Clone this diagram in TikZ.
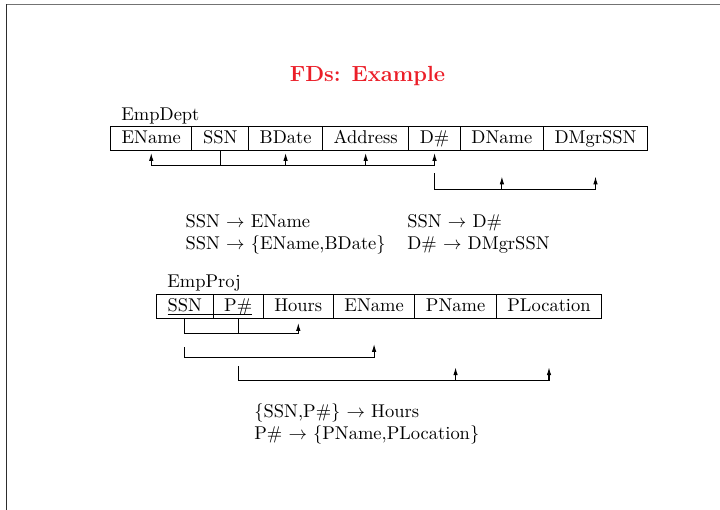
\documentclass[tikz,border=0pt]{standalone}
\usetikzlibrary{positioning,calc,arrows.meta}
\definecolor{titlered}{RGB}{235,30,40}
\definecolor{frametop}{RGB}{115,115,115}
\definecolor{frameleft}{RGB}{45,45,45}
\begin{document}
\begin{tikzpicture}[x=0.5410pt,y=-0.5410pt,
  cell/.style={draw, line width=0.55pt, inner xsep=6pt, inner ysep=0pt, outer sep=0pt,
    text height=9pt, text depth=3.98pt},
  conn/.style={line width=0.55pt},
  arr/.style={line width=0.55pt, -{Latex[length=4.2pt,width=2.4pt]}},
  lbl/.style={inner sep=0pt, anchor=base west},
  titlestyle/.style={inner sep=0pt, anchor=base, text=titlered,
    font=\fontsize{11.85pt}{14pt}\selectfont\bfseries}]
\useasboundingbox (0,0) rectangle (720,510);
% frame
\draw[frametop, line width=0.75pt] (6,4.5) -- (720,4.5);
\draw[frameleft, line width=0.75pt] (6.5,4) -- (6.5,510);
% title
\node[titlestyle] (title) at (367.5,81.5) {FDs: Example};
% EmpDept
\node[lbl] (empdept) at (121,120.5) {EmpDept};
\node[cell, anchor=north west] (a1) at (110.5,126.5) {EName};
\node[cell, right=0pt of a1] (a2) {SSN};
\node[cell, right=0pt of a2] (a3) {BDate};
\node[cell, right=0pt of a3] (a4) {Address};
\node[cell, right=0pt of a4] (a5) {D\#};
\node[cell, right=0pt of a5] (a6) {DName};
\node[cell, right=0pt of a6] (a7) {DMgrSSN};
\coordinate (h1) at (0,165.5);
\coordinate (s2) at (0,173.3);
\coordinate (h2) at (0,189.5);
\coordinate (t1) at (0,153);
\coordinate (t2) at (0,176.5);
\draw[conn] (a2.south) -- (a2.south |- h1);
\draw[conn] (a1.south |- h1) -- (a5.south |- h1);
\draw[arr] (a1.south |- h1) -- (a1.south |- t1);
\draw[arr] (a3.south |- h1) -- (a3.south |- t1);
\draw[arr] (a4.south |- h1) -- (a4.south |- t1);
\draw[arr] (a5.south |- h1) -- (a5.south |- t1);
\draw[conn] (a5.south |- s2) -- (a5.south |- h2) -- (a7.south |- h2);
\draw[arr] (a6.south |- h2) -- (a6.south |- t2);
\draw[arr] (a7.south |- h2) -- (a7.south |- t2);
% FDs 1
\node[lbl] (f1) at (185.3,227) {SSN $\rightarrow$ EName};
\node[lbl] (f2) at (407,227) {SSN $\rightarrow$ D\#};
\node[lbl] (f3) at (185.3,249.6) {SSN $\rightarrow$ \{EName,BDate\}};
\node[lbl] (f4) at (407,249.6) {D\# $\rightarrow$ DMgrSSN};
% EmpProj
\node[lbl] (empproj) at (167,287) {EmpProj};
\node[cell, anchor=north west] (b1) at (156.5,294.5) {SSN};
\node[cell, right=0pt of b1] (b2) {P\#};
\node[cell, right=0pt of b2] (b3) {Hours};
\node[cell, right=0pt of b3] (b4) {EName};
\node[cell, right=0pt of b4] (b5) {PName};
\node[cell, right=0pt of b5] (b6) {PLocation};
\draw[line width=0.4pt] ([xshift=6pt,yshift=-1.8pt]b1.base west) -- ([xshift=-6pt,yshift=-1.8pt]b2.base east);
\coordinate (g1) at (0,333.5);
\coordinate (u1) at (0,323);
\coordinate (q2) at (0,347.3);
\coordinate (g2) at (0,357.5);
\coordinate (u2) at (0,344);
\coordinate (q3) at (0,366);
\coordinate (g3) at (0,380.5);
\coordinate (u3) at (0,367.3);
\draw[conn] (b1.south) -- (b1.south |- g1) -- (b3.south |- g1);
\draw[conn] (b2.south) -- (b2.south |- g1);
\draw[arr] (b3.south |- g1) -- (b3.south |- u1);
\draw[conn] (b1.south |- q2) -- (b1.south |- g2) -- (b4.south |- g2);
\draw[arr] (b4.south |- g2) -- (b4.south |- u2);
\draw[conn] (b2.south |- q3) -- (b2.south |- g3) -- (b6.south |- g3);
\draw[arr] (b5.south |- g3) -- (b5.south |- u3);
\draw[arr] (b6.south |- g3) -- (b6.south |- u3);
% FDs 2
\node[lbl] (f5) at (254,417) {\{SSN,P\#\} $\rightarrow$ Hours};
\node[lbl] (f6) at (254,439.6) {P\# $\rightarrow$ \{PName,PLocation\}};
\end{tikzpicture}
\end{document}
